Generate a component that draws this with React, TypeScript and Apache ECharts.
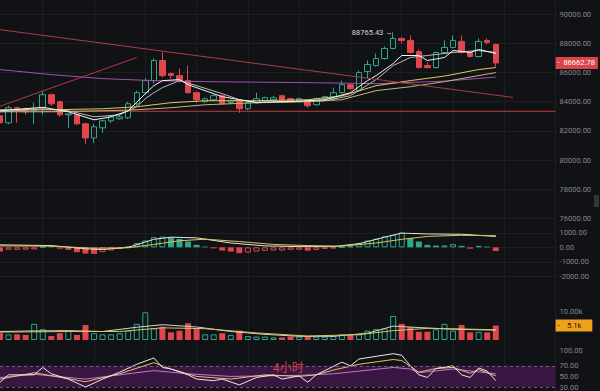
import React, { useEffect, useRef } from 'react';
import * as echarts from 'echarts';

// ---------- data ----------
const categories = Array.from({ length: 66 }, (_, i) => `K${i + 1}`);

const opens = [83034, 82552, 83586, 83517, 83379, 83586, 84483, 84000, 83103, 83103,
  82483, 81517, 82207, 82690, 82830, 82897, 83862, 84621, 85448, 86828,
  85931, 85793, 85448, 84621, 84000, 84138, 84414, 83950, 84069, 83517,
  83931, 84069, 84138, 84414, 84207, 84069, 84069, 83793, 84207, 84207,
  84621, 85172, 84759, 86069, 86483, 86966, 87655, 88345, 88207, 87448,
  86483, 86345, 87379, 87724, 88138, 87379, 87103, 88207, 87931];
const closes = [82552, 83586, 83448, 83310, 83517, 84483, 83862, 83103, 83172, 82483,
  81517, 82276, 82690, 82966, 82966, 83862, 84621, 85448, 86828, 85793,
  85793, 85448, 84621, 84138, 84207, 84414, 83862, 84069, 83517, 83931,
  84207, 84276, 84276, 84138, 84069, 84207, 83724, 84207, 84345, 84621,
  85172, 84897, 86000, 86552, 86966, 87655, 88345, 88207, 87379, 86345,
  86345, 87379, 87724, 88207, 87379, 87103, 88138, 88069, 86662.78];
const lows = [82450, 82448, 82552, 83103, 82483, 83103, 83724, 82966, 82207, 82400,
  81103, 81172, 81862, 82550, 82760, 82830, 83724, 84483, 85241, 85655,
  85586, 85310, 84552, 83931, 83931, 84069, 83793, 83862, 83241, 83450,
  83862, 84000, 84069, 84069, 84000, 84000, 83586, 83724, 84138, 84069,
  84552, 84828, 84690, 85586, 86414, 86897, 87586, 88000, 87310, 86276,
  86276, 86276, 87310, 87655, 87310, 87034, 87034, 87931, 86400];
const highs = [83100, 83724, 83655, 83600, 83931, 84759, 84552, 84069, 83172, 83172,
  82552, 82483, 82760, 83050, 83100, 84000, 84759, 85600, 86966, 87379,
  86000, 86276, 86483, 84700, 84276, 84500, 84483, 84138, 84138, 84000,
  84621, 84350, 84400, 84483, 84276, 84276, 84138, 84276, 84414, 84966,
  85448, 85241, 86138, 86828, 87310, 87793, 88765.43, 88414, 88550, 87586,
  86690, 87448, 88207, 88550, 88550, 87448, 88345, 88345, 88000];

// moving averages: [candle index, price]
const ma5Pts = [[0, 83379], [5, 83620], [8, 83310], [11, 82758], [13, 82965], [15, 83379], [17, 84552], [18, 85103], [19, 85448], [21, 85517], [22, 85172], [24, 84759], [26, 84345], [28, 84138], [30, 83966], [35, 84034], [38, 84138], [41, 84620], [43, 85448], [44, 85793], [46, 86621], [47, 87172], [49, 87172], [50, 86828], [52, 87034], [53, 87517], [55, 87379], [56, 87586], [58, 87310]];
const ma10Pts = [[0, 83310], [5, 83517], [8, 83379], [11, 82965], [14, 83103], [16, 83655], [17, 84207], [18, 84621], [19, 84966], [21, 85448], [23, 85103], [26, 84552], [28, 84138], [30, 83931], [38, 84069], [41, 84414], [44, 85517], [46, 86483], [48, 87034], [50, 87172], [53, 87379], [56, 87517], [58, 87379]];
const ma30Pts = [[0, 83448], [6, 83448], [12, 83517], [16, 83655], [20, 83931], [24, 84069], [30, 84069], [36, 84138], [40, 84400], [44, 85100], [48, 85450], [52, 85760], [56, 86207], [58, 86345]];
const ma60Pts = [[0, 83310], [6, 83310], [12, 83379], [16, 83448], [20, 83586], [24, 83793], [30, 83931], [36, 84000], [40, 84138], [44, 84760], [48, 85030], [52, 85380], [56, 85793], [58, 86000]];
const ma120Pts = [[0, 86207], [6, 85862], [12, 85586], [18, 85448], [24, 85379], [36, 85310], [44, 85241], [52, 85414], [58, 85690]];

// drawn lines (price levels / trend lines as [candle index, price])
const supportLevel = 83345;
const supportSpan = [0, 65];
const trendDown = [[0, 88945], [60, 84297]];
const trendUp = [[0, 83690], [16, 87034]];

// volume (thousands)
const volumes = [2.4, 2.0, 2.0, 1.8, 5.7, 3.8, 1.4, 2.4, 3.3, 1.8,
  5.3, 2.4, 2.0, 2.0, 2.4, 3.3, 5.7, 9.8, 4.1, 4.7,
  2.7, 3.3, 5.9, 4.1, 2.0, 2.0, 2.4, 1.8, 3.3, 1.4,
  1.2, 1.2, 0.9, 0.9, 1.2, 1.2, 1.2, 1.2, 1.2, 1.4,
  2.0, 1.8, 2.0, 3.3, 3.8, 4.1, 8.5, 5.7, 4.5, 2.9,
  2.9, 3.8, 5.7, 3.3, 5.3, 2.7, 2.9, 2.7, 5.1];
const volMa5Pts = [[0, 3.0], [4, 3.2], [8, 3.3], [12, 3.0], [16, 4.5], [19, 5.4], [23, 4.6], [27, 3.0], [31, 2.0], [35, 1.3], [39, 1.3], [43, 2.4], [46, 4.9], [49, 4.4], [53, 3.8], [56, 3.6], [58, 3.5]];
const volMa10Pts = [[0, 2.8], [8, 3.0], [14, 3.0], [19, 4.3], [24, 4.0], [30, 2.5], [36, 1.4], [42, 1.9], [46, 3.3], [50, 4.1], [54, 3.9], [58, 3.6]];

// MACD
const macdHist = [-290, -170, -170, -160, -140, 30, 120, -90, -170, -330,
  -430, -450, -330, -220, -120, 50, 290, 470, 700, 740,
  680, 580, 400, 170, 50, -70, -220, -290, -400, -360,
  -290, -240, -220, -220, -170, -170, -230, -180, -110, -80,
  10, 80, 290, 470, 590, 750, 860, 1020, 630, 400,
  170, 120, 130, 220, 100, -90, 100, 50, -250];
const difPts = [[0, 170], [6, 120], [10, -100], [12, -150], [15, 0], [18, 550], [20, 700], [23, 650], [27, 300], [31, 100], [35, 50], [39, 50], [42, 250], [45, 700], [47, 980], [50, 920], [54, 900], [58, 750]];
const deaPts = [[0, 100], [6, 80], [11, -60], [15, -30], [18, 200], [21, 450], [24, 560], [28, 400], [32, 200], [36, 120], [40, 80], [44, 300], [47, 550], [50, 750], [54, 830], [58, 800]];

// RSI
const rsi6Pts = [[0, 39], [1, 53], [4, 53], [5, 67], [6, 55], [8, 45], [10, 30], [12, 45], [14, 58], [16, 73], [18, 85], [19, 67], [20, 64], [22, 53], [23, 45], [25, 42], [26, 45], [28, 34], [30, 48], [32, 53], [33, 45], [35, 51], [36, 39], [37, 53], [40, 77], [41, 70], [42, 83], [46, 93], [47, 90], [48, 70], [49, 53], [50, 48], [51, 65], [53, 70], [54, 53], [55, 48], [56, 66], [57, 60], [58, 42]];
const rsi12Pts = [[0, 45], [4, 57], [10, 40], [14, 55], [18, 76], [20, 64], [23, 50], [27, 45], [31, 53], [35, 50], [37, 53], [39, 62], [42, 73], [46, 82], [47, 80], [49, 58], [51, 65], [53, 67], [55, 56], [56, 63], [58, 51]];
const rsi24Pts = [[0, 48], [4, 54], [10, 45], [14, 53], [18, 61], [22, 55], [27, 50], [35, 52], [39, 55], [42, 60], [46, 67], [48, 64], [49, 57], [53, 64], [58, 55]];
const rsiTicks = [100, 70, 50, 30];
const rsiBand = [30, 70];

const periodLabel = '4小时';

// ---------- styles ----------
const BG = '#111215';
const GRID = '#1c1e22';
const LABEL = '#85878c';
const UP = '#2fa88a';
const DOWN = '#e0464b';
const LINE_RED = '#c23a3f';
const FONT = 'Roboto, "Noto Sans", sans-serif';
const L = -1.75;
const R = 44.4;

function buildOption() {
  const last = closes[closes.length - 1];
  const lastVol = volumes[volumes.length - 1];
  const axisLabel = { color: LABEL, fontSize: 7.5, fontFamily: FONT, margin: 4 };
  const hiddenX = (g: number, split = false) => ({
    type: 'category', gridIndex: g, data: categories, boundaryGap: false,
    axisLine: { show: false }, axisTick: { show: false }, axisLabel: { show: false },
    splitLine: split
      ? { show: true, interval: (idx: number) => idx % 6 === 5, lineStyle: { color: GRID, width: 1 } }
      : { show: false },
  });
  const line = (name: string, x: number, data: number[][], color: string, width = 1) => ({
    name, type: 'line', xAxisIndex: x, yAxisIndex: x, data, showSymbol: false, symbol: 'none',
    lineStyle: { color, width }, itemStyle: { color }, z: 3, silent: true,
  });
  const barStyle = (up: boolean) => up
    ? { color: 'rgba(0,0,0,0)', borderColor: UP, borderWidth: 1 }
    : { color: DOWN, borderColor: DOWN, borderWidth: 0 };

  return {
    animation: false,
    backgroundColor: BG,
    textStyle: { fontFamily: FONT },
    grid: [
      { left: L, right: R, top: 0, bottom: 0 },
      { left: L, right: R, top: 14.3, height: 204 },
      { left: L, right: R, top: 232.8, height: 43.6 },
      { left: L, right: R, top: 311.7, height: 28.3 },
      { left: L, right: R, top: 350, height: 38.5 },
    ],
    xAxis: [hiddenX(0, true), hiddenX(1), hiddenX(2), hiddenX(3), hiddenX(4)],
    yAxis: [
      { type: 'value', gridIndex: 0, show: false },
      {
        type: 'value', gridIndex: 1, position: 'right', min: 76000, max: 90000, interval: 2000,
        axisLine: { show: false }, axisTick: { show: false },
        axisLabel: { ...axisLabel, formatter: (v: number) => v.toFixed(2) },
        splitLine: { lineStyle: { color: GRID } },
      },
      {
        type: 'value', gridIndex: 2, position: 'right', min: -2000, max: 1000, interval: 1000,
        axisLine: { show: false }, axisTick: { show: false },
        axisLabel: { ...axisLabel, formatter: (v: number) => v.toFixed(2) },
        splitLine: { lineStyle: { color: GRID } },
      },
      {
        type: 'value', gridIndex: 3, position: 'right', min: 0, max: 10, interval: 10,
        axisLine: { show: false }, axisTick: { show: false },
        axisLabel: { ...axisLabel, formatter: (v: number) => (v === 0 ? '' : v.toFixed(2) + 'k') },
        splitLine: { show: false },
      },
      {
        type: 'value', gridIndex: 4, position: 'right', min: 30, max: 100, interval: 10,
        axisLine: { show: false }, axisTick: { show: false },
        axisLabel: { ...axisLabel, formatter: (v: number) => (rsiTicks.includes(v) ? v.toFixed(2) : '') },
        splitLine: { show: false },
      },
    ],
    graphic: [
      { type: 'rect', shape: { x: 594, y: 195, width: 5, height: 12, r: 1 }, style: { fill: '#34363b' } },
      {
        type: 'text', left: 273, top: 360, z: 10,
        style: { text: periodLabel, fill: '#d9414a', fontSize: 12, fontFamily: '"Noto Sans CJK SC", sans-serif' },
      },
    ],
    series: [
      line('Support', 1, supportSpan.map((i) => [i, supportLevel]), LINE_RED),
      {
        name: 'K', type: 'candlestick', xAxisIndex: 1, yAxisIndex: 1, barWidth: 6,
        data: opens.map((o, i) => [o, closes[i], lows[i], highs[i]]),
        itemStyle: { color: 'rgba(0,0,0,0)', color0: DOWN, borderColor: UP, borderColor0: DOWN, borderWidth: 1 },
        markLine: {
          silent: true, symbol: ['none', 'none'], label: { show: false },
          lineStyle: { color: LINE_RED, width: 1, type: 'solid', opacity: 1 },
          data: [
            [
              { coord: trendDown[0], lineStyle: { color: '#a83e48', width: 1, type: 'solid' } },
              { coord: trendDown[1] },
            ],
            [
              { coord: trendUp[0], lineStyle: { color: '#b23c40', width: 1, type: 'solid' } },
              { coord: trendUp[1] },
            ],
            {
              yAxis: last, lineStyle: { color: 'rgba(0,0,0,0)', width: 0 },
              label: {
                show: true, position: 'end', distance: 0, formatter: '-  ' + last.toFixed(2),
                color: '#ffffff', backgroundColor: '#dc4447', padding: [2, 3, 2, 2],
                fontSize: 7.5, fontFamily: FONT,
              },
            },
          ],
        },
        markPoint: {
          silent: true,
          data: [{
            type: 'max', valueDim: 'highest', symbol: 'circle', symbolSize: 1,
            itemStyle: { color: 'rgba(0,0,0,0)' },
            label: {
              show: true, position: 'left', distance: 0, color: '#d4d4d4', fontSize: 7.5, fontFamily: FONT,
              formatter: (p: any) => Number(p.value).toFixed(2) + ' →',
            },
          }],
        },
      },
      line('MA120', 1, ma120Pts, '#a24fb0'),
      line('MA60', 1, ma60Pts, '#c2b77a'),
      line('MA30', 1, ma30Pts, '#d8cd5c'),
      line('MA10', 1, ma10Pts, '#b9b9b9'),
      line('MA5', 1, ma5Pts, '#f4f4f4'),
      {
        name: 'MACD', type: 'bar', xAxisIndex: 2, yAxisIndex: 2, barWidth: 6,
        data: macdHist.map((v, i) => {
          const rising = i > 0 && v >= macdHist[i - 1];
          const col = v >= 0 ? UP : DOWN;
          return {
            value: v,
            itemStyle: rising
              ? { color: 'rgba(0,0,0,0)', borderColor: col, borderWidth: 1 }
              : { color: col, borderColor: col, borderWidth: 0 },
          };
        }),
      },
      line('DIF', 2, difPts, '#e4e4e4'),
      line('DEA', 2, deaPts, '#d6c65e'),
      {
        name: 'VOL', type: 'bar', xAxisIndex: 3, yAxisIndex: 3, barWidth: 6,
        data: volumes.map((v, i) => ({ value: v, itemStyle: barStyle(closes[i] >= opens[i]) })),
        markLine: {
          silent: true, symbol: ['none', 'none'],
          data: [{
            yAxis: lastVol, lineStyle: { color: 'rgba(0,0,0,0)', width: 0 },
            label: {
              show: true, position: 'end', distance: 0, formatter: '-    ' + lastVol.toFixed(1) + 'k',
              color: '#1b1305', backgroundColor: '#f0a11c', padding: [2, 11, 2, 2],
              fontSize: 7.5, fontFamily: FONT,
            },
          }],
        },
      },
      line('VMA5', 3, volMa5Pts, '#d4d4d4'),
      line('VMA10', 3, volMa10Pts, '#d6c65e'),
      {
        ...line('RSI24', 4, rsi24Pts, '#c874cf'),
        markArea: {
          silent: true,
          itemStyle: { color: '#3a1643' },
          data: [[{ yAxis: rsiBand[0] }, { yAxis: rsiBand[1] }]],
        },
        markLine: {
          silent: true, symbol: ['none', 'none'], label: { show: false },
          lineStyle: { color: '#6e5a74', type: [3, 3], width: 1 },
          data: [{ yAxis: rsiBand[1] }, { yAxis: rsiBand[0] }],
        },
      },
      line('RSI12', 4, rsi12Pts, '#e3c36a'),
      line('RSI6', 4, rsi6Pts, '#e8e8e8'),
    ],
  };
}

export default function App() {
  const ref = useRef<HTMLDivElement>(null);
  useEffect(() => {
    document.body.style.margin = '0';
    document.body.style.background = BG;
    const chart = echarts.init(ref.current as HTMLDivElement, null, { renderer: 'svg' });
    chart.setOption(buildOption() as any);
    return () => chart.dispose();
  }, []);
  return <div ref={ref} style={{ position: 'fixed', left: 0, top: 0, width: 600, height: 391 }} />;
}
